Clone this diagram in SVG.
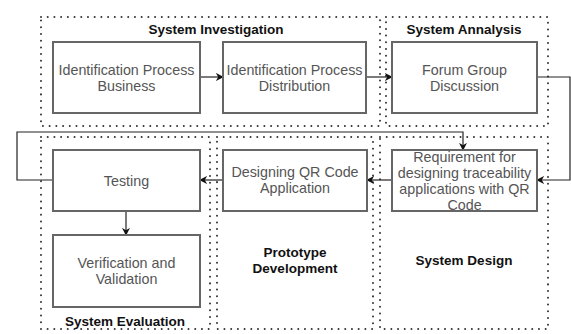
<svg xmlns="http://www.w3.org/2000/svg" width="571" height="334" viewBox="0 0 571 334">
<style>
.sec{fill:none;stroke:#333;stroke-width:2;stroke-dasharray:0.01 6.7;stroke-linecap:round}
.box{fill:#fff;stroke:#666;stroke-width:2}
.t{font-family:"Liberation Sans",Arial,sans-serif;font-size:14.3px;fill:#555;text-anchor:middle}
.h{font-family:"Liberation Sans",Arial,sans-serif;font-size:13.5px;font-weight:bold;fill:#111;text-anchor:middle}
.c{fill:none;stroke:#222;stroke-width:1.2}
</style>
<defs>
<marker id="arr" viewBox="0 0 10 10" refX="9" refY="5" markerWidth="8" markerHeight="8" markerUnits="userSpaceOnUse" orient="auto">
<path d="M0,0 L10,5 L0,10 L3,5 Z" fill="#111"/>
</marker>
</defs>
<rect width="571" height="334" fill="#fff"/>
<g id="sec-investigation"><rect class="sec" x="41" y="17" width="339" height="109"/><text class="h" x="216" y="34">System Investigation</text></g>
<g id="sec-analysis"><rect class="sec" x="386" y="17" width="162" height="109"/><text class="h" x="464" y="34">System Annalysis</text></g>
<g id="sec-evaluation"><rect class="sec" x="41" y="137" width="169" height="192"/><text class="h" x="125" y="326">System Evaluation</text></g>
<g id="sec-prototype"><rect class="sec" x="217" y="137" width="156" height="192"/><text class="h" x="295" y="257">Prototype</text><text class="h" x="295" y="273">Development</text></g>
<g id="sec-design"><rect class="sec" x="380" y="137" width="168" height="192"/><text class="h" x="464" y="265">System Design</text></g>
<g id="connectors">
<path class="c" d="M200,77 H223" marker-end="url(#arr)"/>
<path class="c" d="M366,77 H392" marker-end="url(#arr)"/>
<path class="c" d="M537,77 H570 V180 H537" marker-end="url(#arr)"/>
<path class="c" d="M392,180 H367" marker-end="url(#arr)"/>
<path class="c" d="M223,180 H200" marker-end="url(#arr)"/>
<path class="c" d="M126,211 V235" marker-end="url(#arr)"/>
<path class="c" d="M53,180 H17 V132 H463 V150" marker-end="url(#arr)"/>
</g>
<g id="n1"><rect class="box" x="53" y="42" width="147" height="71"/><text class="t" x="126.5" y="75">Identification Process</text><text class="t" x="126.5" y="91">Business</text></g>
<g id="n2"><rect class="box" x="223" y="42" width="143" height="71"/><text class="t" x="294.5" y="75">Identification Process</text><text class="t" x="294.5" y="91">Distribution</text></g>
<g id="n3"><rect class="box" x="392" y="42" width="145" height="71"/><text class="t" x="464.5" y="75">Forum Group</text><text class="t" x="464.5" y="91">Discussion</text></g>
<g id="n4"><rect class="box" x="392" y="150" width="145" height="61"/><text class="t" x="464.5" y="161.5">Requirement for</text><text class="t" x="464.5" y="177.5">designing traceability</text><text class="t" x="464.5" y="193.5">applications with QR</text><text class="t" x="464.5" y="209.5">Code</text></g>
<g id="n5"><rect class="box" x="223" y="150" width="144" height="61"/><text class="t" x="295" y="177">Designing QR Code</text><text class="t" x="295" y="193">Application</text></g>
<g id="n6"><rect class="box" x="53" y="150" width="147" height="61"/><text class="t" x="126.5" y="185.5">Testing</text></g>
<g id="n7"><rect class="box" x="53" y="235" width="147" height="72"/><text class="t" x="126.5" y="268">Verification and</text><text class="t" x="126.5" y="284">Validation</text></g>
</svg>
